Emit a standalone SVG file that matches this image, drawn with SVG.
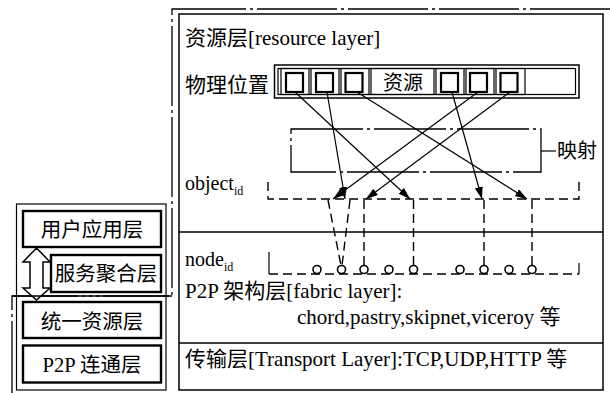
<svg xmlns="http://www.w3.org/2000/svg" width="610" height="393" viewBox="0 0 610 393">
  <style>
    text { font-family: "Liberation Serif", "Noto Sans CJK SC", serif; font-size: 20px; fill: #000; }
    .lbl { font-size: 21px; }
    .big { font-size: 20.5px; }
    .sub { font-size: 12px; }
    .thin { fill: none; stroke: #000; stroke-width: 1.2; }
    .box { fill: none; stroke: #000; stroke-width: 1.5; }
    .thick { fill: #fff; stroke: #000; stroke-width: 2.4; }
    .sq { fill: none; stroke: #000; stroke-width: 2.2; }
    .dashdot { fill: none; stroke: #000; stroke-width: 1.3; stroke-dasharray: 80 4 3 4; }
    .mapdd { fill: none; stroke: #000; stroke-width: 1.3; stroke-dasharray: 72 4 3 4; }
    .dash { fill: none; stroke: #000; stroke-width: 1.4; stroke-dasharray: 9 5; }
    .arrow { fill: none; stroke: #000; stroke-width: 1.2; marker-end: url(#head); }
    .node { fill: #fff; stroke: #000; stroke-width: 1.6; }
  </style>
  <defs>
    <marker id="head" markerUnits="userSpaceOnUse" markerWidth="13" markerHeight="9" refX="12" refY="4" orient="auto">
      <path d="M0,0 L12,4 L0,8 Z" fill="#000"/>
    </marker>
  </defs>

  <!-- dash-dot boundary of the framework -->
  <g id="boundary">
    <path class="dashdot" d="M610,9 H172 V296 H12 V393"/>
  </g>

  <!-- main layered framework -->
  <g id="framework">
    <rect class="box" x="179" y="14" width="424" height="376"/>
    <line class="box" x1="179" y1="232" x2="603" y2="232"/>
    <line class="box" x1="179" y1="343" x2="603" y2="343"/>
  </g>

  <g id="resource-layer">
    <text class="lbl" x="185" y="45">资源层[resource layer]</text>
    <text class="lbl" x="185" y="92">物理位置</text>
  </g>

  <!-- physical location bar -->
  <g id="resource-bar">
    <rect class="box" x="274.5" y="65" width="304.5" height="33"/>
    <rect class="thin" x="278" y="68.5" width="297.5" height="26"/>
    <rect class="thin" x="281" y="68.5" width="28" height="26"/>
    <rect class="thin" x="311" y="68.5" width="28" height="26"/>
    <rect class="thin" x="341" y="68.5" width="28" height="26"/>
    <rect class="thin" x="371" y="68.5" width="63" height="26"/>
    <rect class="thin" x="436" y="68.5" width="28" height="26"/>
    <rect class="thin" x="466" y="68.5" width="28" height="26"/>
    <rect class="thin" x="496" y="68.5" width="29" height="26"/>
    <rect class="sq" x="286" y="73" width="17" height="19"/>
    <rect class="sq" x="316" y="73" width="17" height="19"/>
    <rect class="sq" x="345.5" y="73" width="17" height="19"/>
    <rect class="sq" x="441" y="73" width="17" height="19"/>
    <rect class="sq" x="470" y="73" width="17" height="19"/>
    <rect class="sq" x="500.5" y="73" width="17" height="19"/>
    <text x="403" y="90" text-anchor="middle">资源</text>
  </g>

  <!-- mapping box -->
  <g id="mapping">
    <rect class="mapdd" x="291" y="129" width="250" height="43"/>
    <line class="thin" x1="541" y1="151" x2="556" y2="151"/>
    <text x="557" y="158">映射</text>
  </g>

  <!-- object id space -->
  <g id="object-id">
    <text x="185" y="190">object<tspan class="sub" dy="5">id</tspan></text>
    <path class="dash" d="M268,182 V199 H579 V178"/>
  </g>

  <!-- node id space -->
  <g id="node-id">
    <text x="185" y="266">node<tspan class="sub" dy="5">id</tspan></text>
    <path class="thin" d="M269,252 V274"/>
    <path class="dash" d="M269,274 H579" stroke-dasharray="8 5"/>
    <path class="thin" d="M579,263 V274"/>
  </g>

  <!-- connectors: resource -> object id -> node id -->
  <g id="connectors">
    <line class="arrow" x1="295" y1="92" x2="410" y2="199"/>
    <line class="arrow" x1="327" y1="92" x2="345" y2="199"/>
    <line class="arrow" x1="357" y1="92" x2="527" y2="199"/>
    <line class="arrow" x1="452" y1="92" x2="482" y2="199"/>
    <line class="arrow" x1="478" y1="92" x2="333" y2="199"/>
    <line class="arrow" x1="510" y1="92" x2="366" y2="199"/>
    <line class="dash" x1="328" y1="200" x2="341" y2="265.5"/>
    <line class="dash" x1="350" y1="200" x2="342" y2="265.5"/>
    <line class="dash" x1="364" y1="200" x2="364" y2="265.5"/>
    <line class="dash" x1="413.5" y1="200" x2="413.5" y2="265.5"/>
    <line class="dash" x1="484" y1="200" x2="484" y2="265.5"/>
    <line class="dash" x1="532" y1="200" x2="532" y2="265.5"/>
  </g>

  <g id="nodes">
    <circle class="node" cx="317" cy="269.5" r="4"/>
    <circle class="node" cx="341.5" cy="269.5" r="4"/>
    <circle class="node" cx="364" cy="269.5" r="4"/>
    <circle class="node" cx="389" cy="269.5" r="4"/>
    <circle class="node" cx="413.5" cy="269.5" r="4"/>
    <circle class="node" cx="460" cy="269.5" r="4"/>
    <circle class="node" cx="484" cy="269.5" r="4"/>
    <circle class="node" cx="509" cy="269.5" r="4"/>
    <circle class="node" cx="532" cy="269.5" r="4"/>
  </g>

  <g id="fabric-layer">
    <text class="lbl" x="185" y="298">P2P 架构层[fabric layer]:</text>
    <text class="lbl" x="297" y="324">chord,pastry,skipnet,viceroy 等</text>
  </g>

  <g id="transport-layer">
    <text class="lbl" x="185" y="366">传输层[Transport Layer]:TCP,UDP,HTTP 等</text>
  </g>

  <!-- left layer stack -->
  <g id="stack">
    <rect class="thin" x="16.5" y="204" width="149.5" height="186"/>
  </g>
  <g id="user-app">
    <rect class="thick" x="23" y="211" width="138" height="36"/>
    <text class="big" x="92" y="237" text-anchor="middle">用户应用层</text>
  </g>
  <g id="bidirectional">
    <path d="M36.5,248 L50,262 H43 V288 H50 L36.5,300 L23,288 H30 V262 H23 Z" fill="#fff" stroke="#000" stroke-width="1.5"/>
  </g>
  <g id="service-agg">
    <rect class="thick" x="51" y="255" width="110" height="37"/>
    <text class="big" x="106" y="281" text-anchor="middle">服务聚合层</text>
  </g>
  <g id="unified-res">
    <rect class="thick" x="23" y="302" width="138" height="36"/>
    <text class="big" x="92" y="329" text-anchor="middle">统一资源层</text>
  </g>
  <g id="p2p-conn">
    <rect class="thick" x="23" y="345.5" width="138" height="37"/>
    <text class="big" x="92" y="372" text-anchor="middle">P2P 连通层</text>
  </g>
  <path class="dashdot" d="M12,296 H172"/>
</svg>
